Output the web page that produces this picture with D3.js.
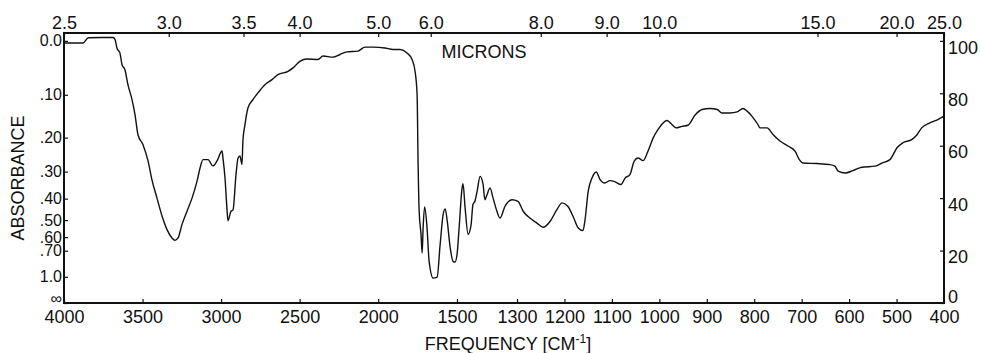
<!DOCTYPE html>
<html>
<head>
<meta charset="utf-8">
<script src="https://cdn.jsdelivr.net/npm/d3@7"></script>
<style>
	body { margin: 0; background: #fff; }
	text { font-family: "Liberation Sans", Arial, Helvetica, sans-serif; fill: #111; }
	.axis text { font-size: 18px; }
	.absaxis text { font-size: 16px; }
	.axis line { stroke: #111; stroke-width: 1.2; }
</style>
</head>
<body>
<div id="irchart"></div>
<script>
// spectrum: wavenumber (cm-1) and % transmittance
var wavenumber = [4000, 3879, 3845, 3760, 3688, 3675, 3663, 3644, 3631, 3612, 3593, 3567, 3548, 3529, 3497, 3465, 3440, 3408, 3376, 3344,
	3313, 3293, 3274, 3249, 3217, 3185, 3153, 3134, 3115, 3083, 3052, 3026, 2994, 2988, 2975, 2963, 2956, 2937, 2924, 2905,
	2892, 2880, 2867, 2861, 2848, 2829, 2797, 2765, 2721, 2676, 2638, 2574, 2542, 2498, 2453, 2383, 2351, 2288, 2243, 2199,
	2129, 2084, 2033, 1957, 1906, 1861, 1817, 1785, 1766, 1753, 1747, 1740, 1728, 1721, 1715, 1705, 1690, 1677, 1651, 1626,
	1607, 1588, 1575, 1562, 1543, 1524, 1513, 1500, 1493, 1483, 1480, 1473, 1463, 1453, 1447, 1440, 1433, 1423, 1413, 1407,
	1400, 1390, 1380, 1367, 1357, 1340, 1317, 1298, 1287, 1273, 1258, 1245, 1230, 1216, 1205, 1193, 1182, 1171, 1161, 1157,
	1150, 1142, 1133, 1125, 1115, 1104, 1093, 1081, 1072, 1062, 1053, 1045, 1034, 1024, 1013, 1003, 992, 984, 973, 965,
	952, 940, 925, 910, 893, 878, 868, 851, 836, 824, 815, 805, 792, 788, 773, 760, 745, 728, 714, 705,
	697, 668, 640, 630, 623, 608, 592, 573, 545, 531, 514, 499, 487, 468, 457, 447, 430, 413, 400];
var transmittance = [99.2, 99.2, 101.2, 101.3, 101.3, 100.5, 97.3, 95.4, 91, 89, 83.3, 77.6, 71.9, 64.2, 60.4, 54.2, 47, 40, 33.2, 28,
	24.8, 23.9, 24.8, 29.9, 35, 40, 46.5, 51.5, 54.7, 54.7, 52.3, 54.2, 58, 55.3, 47.7, 36.3, 31.4, 35, 35.5, 49,
	55.3, 56.1, 52.8, 61.8, 68, 74.4, 77.6, 80.2, 83.3, 85.2, 87.1, 88.4, 89.7, 92.2, 93.1, 92.9, 94.2, 93.8, 94.8, 95.8,
	96.1, 97.6, 97.6, 97.3, 96.7, 96.7, 95.4, 92.9, 88.4, 79.5, 54.2, 35, 26, 19.1, 28.6, 36.6, 28.6, 16, 9.5, 9.9,
	22.3, 33.7, 35.9, 31.3, 21, 15.8, 15.6, 18.4, 28.6, 43.9, 45.5, 36.3, 26.2, 29.9, 37.5, 38.9, 42.6, 48.3, 45.2, 39.4,
	41.3, 43.9, 40.1, 35, 32.4, 36.9, 39.4, 38.8, 35, 32.4, 30.5, 28.9, 31.2, 35.6, 38.2, 36.9, 33.1, 28.6, 27.6, 31.2,
	42.6, 47.7, 50, 47.1, 45.8, 46.7, 46.2, 45.2, 47.7, 49, 54.1, 55.3, 54.3, 57.9, 63, 66.1, 68.7, 69.6, 68, 66.8,
	67.4, 67.8, 71.6, 73.8, 74.2, 73.8, 72.5, 72.5, 72.9, 74.2, 73.2, 71.3, 68, 66.8, 66.8, 64.2, 61.7, 59.8, 57.9, 54.7,
	53.4, 53.2, 52.8, 52.2, 50.3, 49.6, 50.5, 51.8, 52.2, 53.4, 54.7, 59.2, 61.1, 62.3, 64.2, 66.8, 68.7, 70, 71.3];

var freqTicks = [4000, 3500, 3000, 2500, 2000, 1500, 1300, 1200, 1100, 1000, 900, 800, 700, 600, 500, 400];
var micronTicks = [2.5, 3.0, 3.5, 4.0, 5.0, 6.0, 8.0, 9.0, 10.0, 15.0, 20.0, 25.0];
var micronLabels = ["2.5", "3.0", "3.5", "4.0", "5.0", "6.0", "8.0", "9.0", "10.0", "15.0", "20.0", "25.0"];
var absorbanceTicks = [0, 0.1, 0.2, 0.3, 0.4, 0.5, 0.6, 0.7, 1.0, Infinity];
var absorbanceLabels = ["0.0", ".10", ".20", ".30", ".40", ".50", ".60", ".70", "1.0", "\u221e"];
var percentTicks = [0, 20, 40, 60, 80, 100];

var margin = {top: 33, right: 37, bottom: 50, left: 64},
    width = 981,
    height = 353,
    width_g = width - margin.left - margin.right,
    height_g = height - margin.top - margin.bottom;

// chart paper changes scale, so the frequency axis is piecewise linear
var x = d3.scaleLinear()
    .domain([4000, 2000, 1500, 1300, 400])
    .range([0, 0.357, 0.4466, 0.5148, 1].map(function(f){ return f * width_g; }));
var y = d3.scaleLinear()
    .domain([0, 103])
    .range([height_g, 0]);

var spectrum = wavenumber.map(function(w, i){ return {wn: w, t: transmittance[i]}; });

var svg = d3.select("#irchart")
	.append("svg")
	.attr("width", width)
	.attr("height", height);

var frg = svg.append("g")
	.attr("transform", "translate(" + margin.left + "," + margin.top + ")");

// bottom: frequency
frg.append("g")
	.attr("class", "axis xaxis")
	.attr("transform", "translate(0," + height_g + ")")
	.call(d3.axisBottom(x).tickValues(freqTicks).tickFormat(d3.format("d"))
		.tickSizeInner(-4).tickSizeOuter(0).tickPadding(7))
	.call(function(g){ g.select(".domain").remove(); });

// top: microns
frg.append("g")
	.attr("class", "axis micaxis")
	.call(d3.axisTop(x).tickValues(micronTicks.map(function(m){ return 10000 / m; }))
		.tickFormat(function(d, i){ return micronLabels[i]; })
		.tickSizeInner(-4).tickSizeOuter(0).tickPadding(4))
	.call(function(g){ g.select(".domain").remove(); });

// left: absorbance, placed on the transmittance scale
frg.append("g")
	.attr("class", "axis absaxis")
	.call(d3.axisLeft(y).tickValues(absorbanceTicks.map(function(a){ return 100 * Math.pow(10, -a); }))
		.tickFormat(function(d, i){ return absorbanceLabels[i]; })
		.tickSizeInner(-4).tickSizeOuter(0).tickPadding(2))
	.call(function(g){ g.select(".domain").remove(); })
	.call(function(g){
		g.selectAll("text").filter(function(d){ return d === 0; }).attr("dy", "0em");
	});

// right: percent transmittance (printed labels sit a little low on the paper)
frg.append("g")
	.attr("class", "axis taxis")
	.attr("transform", "translate(" + width_g + ",0)")
	.call(d3.axisRight(y).tickValues(percentTicks)
		.tickSizeInner(-4).tickSizeOuter(0).tickPadding(4))
	.call(function(g){ g.select(".domain").remove(); })
	.call(function(g){
		g.selectAll("text").attr("dy", function(d){ return d === 0 ? "-0.05em" : "0.68em"; });
	});

// frame
frg.append("rect")
	.attr("x", 0)
	.attr("y", 0)
	.attr("width", width_g)
	.attr("height", height_g)
	.attr("fill", "none")
	.attr("stroke", "#111")
	.attr("stroke-width", 2);

var line = d3.line()
	.x(function(d){ return x(d.wn); })
	.y(function(d){ return y(d.t); })
	.curve(d3.curveMonotoneX);

frg.append("path")
	.datum(spectrum)
	.attr("d", line)
	.attr("fill", "none")
	.attr("stroke", "#111")
	.attr("stroke-width", 1.4)
	.attr("stroke-linejoin", "round");

// labels
frg.append("text")
	.attr("x", 420)
	.attr("y", 25)
	.style("text-anchor", "middle")
	.attr("font-size", 18)
	.text("MICRONS");

var xlab = svg.append("text")
	.attr("x", 508)
	.attr("y", 350)
	.style("text-anchor", "middle")
	.attr("font-size", 18);
xlab.append("tspan").text("FREQUENCY [CM");
xlab.append("tspan").attr("dy", -7).attr("font-size", 12).text("-1");
xlab.append("tspan").attr("dy", 7).text("]");

svg.append("text")
	.attr("transform", "translate(24," + (margin.top + height_g / 2 + 10) + ") rotate(-90)")
	.style("text-anchor", "middle")
	.attr("font-size", 18)
	.text("ABSORBANCE");
</script>
</body>
</html>
